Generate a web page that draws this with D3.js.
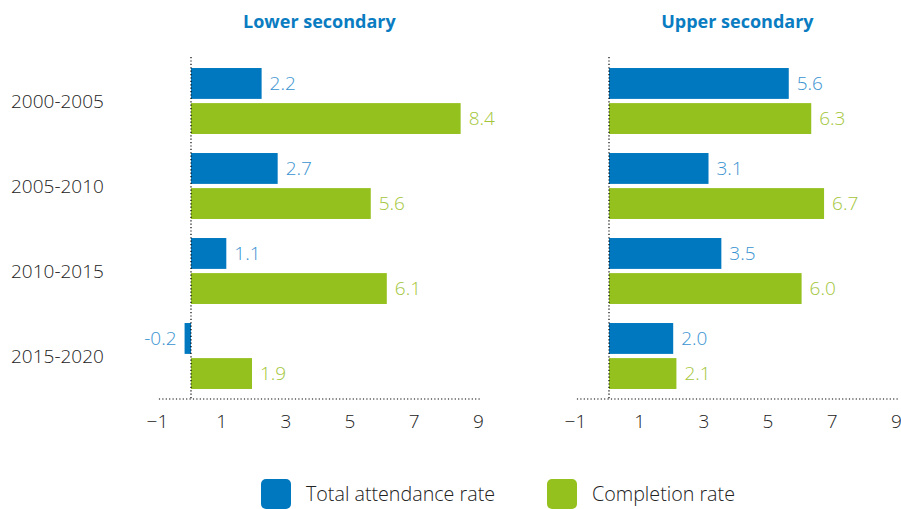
<!DOCTYPE html>
<html>
<head>
<meta charset="utf-8">
<script src="https://cdn.jsdelivr.net/npm/d3@7"></script>
<style>
  body { margin: 0; background: #fff; }
  svg { display: block; font-family: "Open Sans", "Noto Sans", sans-serif; }
</style>
</head>
<body>
<div id="chart"></div>
<script>
// Data
var periods = ["2000-2005", "2005-2010", "2010-2015", "2015-2020"];
var seriesNames = ["Total attendance rate", "Completion rate"];
var lowerAttendance = [2.2, 2.7, 1.1, -0.2];
var lowerCompletion = [8.4, 5.6, 6.1, 1.9];
var upperAttendance = [5.6, 3.1, 3.5, 2.0];
var upperCompletion = [6.3, 6.7, 6.0, 2.1];
var tickValues = [-1, 1, 3, 5, 7, 9];

var width = 901, height = 509;
var barColors = ["#0078bf", "#95c11f"];
var labelColors = ["#3a93d1", "#a3c63b"];

var svg = d3.select("#chart").append("svg")
  .attr("width", width)
  .attr("height", height);

// shared vertical scales
var yBand = d3.scaleBand()
  .domain(periods)
  .range([58.5, 398.5])
  .paddingInner(0.224)
  .paddingOuter(0.112);

var ySub = d3.scaleBand()
  .domain([0, 1])
  .range([0, yBand.bandwidth()])
  .paddingInner(0.12);

// category labels on the left
svg.append("g").selectAll("text")
  .data(periods)
  .enter().append("text")
  .attr("x", 11)
  .attr("y", function(d) { return yBand(d) + yBand.bandwidth() / 2; })
  .attr("dy", "0.35em")
  .attr("font-size", 19)
  .attr("font-weight", 300)
  .attr("fill", "#222")
  .text(function(d) { return d; });

function drawPanel(title, zeroX, attendance, completion) {
  var x = d3.scaleLinear()
    .domain([-1, 9])
    .range([zeroX - 32.1, zeroX + 9 * 32.1]);

  var g = svg.append("g");

  g.append("text")
    .attr("x", (x(-1) + x(9)) / 2)
    .attr("y", 28)
    .attr("text-anchor", "middle")
    .attr("font-size", 18)
    .attr("font-weight", "bold")
    .attr("fill", "#0a7cc1")
    .text(title);

  var rows = periods.map(function(p, i) {
    return { period: p, values: [attendance[i], completion[i]] };
  });

  var row = g.selectAll(".row")
    .data(rows)
    .enter().append("g")
    .attr("transform", function(d) { return "translate(0," + yBand(d.period) + ")"; });

  row.selectAll("rect")
    .data(function(d) { return d.values; })
    .enter().append("rect")
    .attr("x", function(v) { return x(Math.min(0, v)); })
    .attr("y", function(v, i) { return ySub(i); })
    .attr("width", function(v) { return Math.abs(x(v) - x(0)); })
    .attr("height", ySub.bandwidth())
    .attr("fill", function(v, i) { return barColors[i]; });

  row.selectAll(".val")
    .data(function(d) { return d.values; })
    .enter().append("text")
    .attr("class", "val")
    .attr("x", function(v) { return v < 0 ? x(v) - 8 : x(v) + 8; })
    .attr("y", function(v, i) { return ySub(i) + ySub.bandwidth() / 2; })
    .attr("dy", "0.35em")
    .attr("text-anchor", function(v) { return v < 0 ? "end" : "start"; })
    .attr("font-size", 19)
    .attr("font-weight", 300)
    .attr("fill", function(v, i) { return labelColors[i]; })
    .text(function(v) { return v.toFixed(1); });

  // dotted axes
  g.append("line")
    .attr("x1", x(0)).attr("x2", x(0))
    .attr("y1", 57).attr("y2", 399)
    .attr("stroke", "#000")
    .attr("stroke-width", 1.2)
    .attr("stroke-dasharray", "1.2,2.2");

  g.append("line")
    .attr("x1", x(-1)).attr("x2", x(9) + 2)
    .attr("y1", 399).attr("y2", 399)
    .attr("stroke", "#000")
    .attr("stroke-width", 1.2)
    .attr("stroke-dasharray", "1.2,2.2");

  var axis = d3.axisBottom(x)
    .tickValues(tickValues)
    .tickSize(0)
    .tickPadding(0)
    .tickFormat(function(d) { return d < 0 ? "\u2212" + Math.abs(d) : d; });

  var ax = g.append("g")
    .attr("transform", "translate(-2,414)")
    .call(axis);
  ax.select(".domain").remove();
  ax.selectAll("text")
    .attr("font-size", 19)
    .attr("font-weight", 300)
    .attr("font-family", "Open Sans, Noto Sans, sans-serif")
    .attr("fill", "#222");
}

drawPanel("Lower secondary", 191, lowerAttendance, lowerCompletion);
drawPanel("Upper secondary", 609, upperAttendance, upperCompletion);

// legend, kept just inside the bottom edge
var legendX = [261, 547];
var legend = svg.append("g").selectAll("g")
  .data(seriesNames)
  .enter().append("g")
  .attr("transform", function(d, i) { return "translate(" + legendX[i] + ",479)"; });

legend.append("rect")
  .attr("width", 30)
  .attr("height", 30)
  .attr("rx", 5)
  .attr("fill", function(d, i) { return barColors[i]; });

legend.append("text")
  .attr("x", 45)
  .attr("y", 22)
  .attr("font-size", 19.7)
  .attr("font-weight", 300)
  .attr("fill", "#222")
  .text(function(d) { return d; });
</script>
</body>
</html>
